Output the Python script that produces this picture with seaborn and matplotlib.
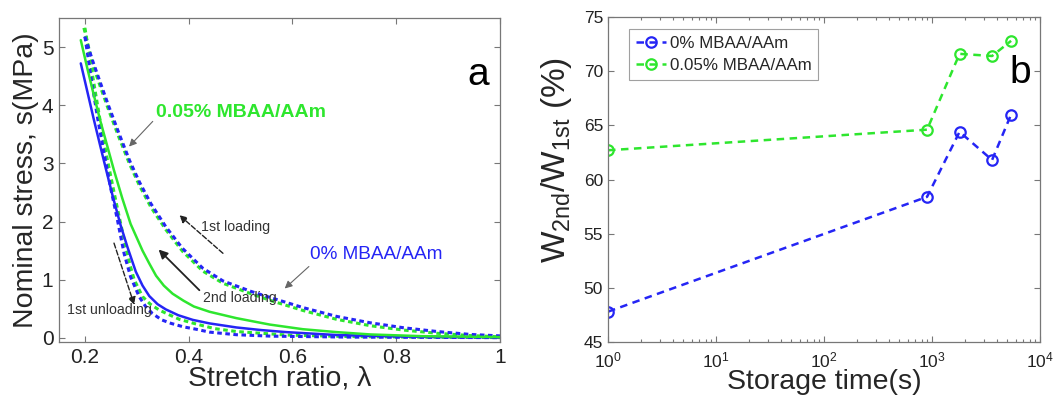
import numpy as np
import pandas as pd
import matplotlib
matplotlib.use("Agg")
import matplotlib.pyplot as plt
import seaborn as sns

# ---- panel (a): nominal stress vs stretch ratio ----
lam_load_0 = [0.200, 0.215, 0.230, 0.246, 0.265, 0.286, 0.305, 0.327, 0.356, 0.388,
              0.427, 0.466, 0.520, 0.5625, 0.621, 0.685, 0.750, 0.814, 0.879, 0.943, 1.000]
s_load_0 = [5.18, 4.76, 4.38, 3.98, 3.53, 3.05, 2.68, 2.31, 1.91, 1.54,
            1.20, 0.98, 0.80, 0.68, 0.52, 0.37, 0.26, 0.175, 0.11, 0.06, 0.035]

lam_load_5 = [0.198, 0.215, 0.230, 0.246, 0.265, 0.286, 0.305, 0.327, 0.356, 0.388,
              0.427, 0.466, 0.520, 0.5625, 0.621, 0.685, 0.750, 0.814, 0.879, 0.943, 1.000]
s_load_5 = [5.33, 4.70, 4.31, 3.91, 3.46, 2.99, 2.62, 2.25, 1.86, 1.49,
            1.15, 0.94, 0.76, 0.63, 0.47, 0.32, 0.21, 0.135, 0.08, 0.04, 0.02]

lam_second_0 = [0.192, 0.205, 0.217, 0.229, 0.240, 0.254, 0.269, 0.282, 0.298, 0.311,
                0.324, 0.340, 0.356, 0.380, 0.408, 0.440, 0.492, 0.540, 0.588, 0.685,
                0.800, 0.900, 1.000]
s_second_0 = [4.72, 4.22, 3.76, 3.32, 2.92, 2.42, 1.93, 1.56, 1.14, 0.90,
              0.72, 0.58, 0.49, 0.39, 0.31, 0.25, 0.18, 0.135, 0.10, 0.05,
              0.025, 0.015, 0.01]

lam_second_5 = [0.192, 0.205, 0.217, 0.230, 0.243, 0.256, 0.272, 0.288, 0.300, 0.311,
                0.324, 0.337, 0.352, 0.369, 0.390, 0.410, 0.440, 0.492, 0.556, 0.620,
                0.685, 0.750, 0.850, 1.000]
s_second_5 = [5.12, 4.62, 4.18, 3.72, 3.30, 2.88, 2.40, 1.96, 1.72, 1.50,
              1.28, 1.07, 0.90, 0.76, 0.64, 0.54, 0.45, 0.34, 0.23, 0.15,
              0.10, 0.06, 0.03, 0.015]

lam_unload_0 = [0.200, 0.212, 0.225, 0.238, 0.250, 0.2626, 0.269, 0.2755, 0.288, 0.3045,
                0.317, 0.330, 0.348, 0.366, 0.390, 0.414, 0.440, 0.492, 0.560, 0.700,
                0.850, 1.000]
s_unload_0 = [5.18, 4.46, 3.75, 3.12, 2.56, 2.03, 1.74, 1.45, 1.05, 0.71,
              0.54, 0.42, 0.31, 0.25, 0.19, 0.15, 0.10, 0.055, 0.03, 0.015,
              0.01, 0.005]

lam_unload_5 = [0.200, 0.214, 0.229, 0.242, 0.255, 0.268, 0.279, 0.287, 0.295, 0.311,
                0.326, 0.343, 0.362, 0.382, 0.414, 0.450, 0.492, 0.588, 0.700, 0.850, 1.000]
s_unload_5 = [5.33, 4.55, 3.75, 3.12, 2.55, 2.00, 1.55, 1.25, 1.00, 0.71,
              0.58, 0.48, 0.40, 0.32, 0.24, 0.16, 0.11, 0.05, 0.025, 0.012, 0.006]

# ---- panel (b): energy ratio vs storage time ----
storage_time = [1, 900, 1800, 3600, 5400]
ratio_0 = [47.8, 58.4, 64.4, 61.8, 66.0]
ratio_5 = [62.7, 64.6, 71.6, 71.4, 72.8]

label_0 = "0% MBAA/AAm"
label_5 = "0.05% MBAA/AAm"

BLUE = "#2525f5"
GREEN = "#2ee62e"
DASH = (0, (1.5, 1.15))

sns.set_theme(style="ticks")
plt.rcParams["font.family"] = ["Liberation Sans", "DejaVu Sans"]
plt.rcParams["mathtext.fontset"] = "custom"
plt.rcParams["mathtext.rm"] = "Liberation Sans"
plt.rcParams["mathtext.it"] = "Liberation Sans"

fig = plt.figure(figsize=(10.62, 3.98), dpi=100)
ax1 = fig.add_axes([59 / 1062, 56 / 398, 441 / 1062, 324 / 398])
ax2 = fig.add_axes([608 / 1062, 56 / 398, 432 / 1062, 325 / 398])

def curve(ax, lam, s, color, dashed, lw):
    df = pd.DataFrame({"lam": lam, "s": s})
    kw = dict(linestyle=DASH) if dashed else dict(linestyle="-")
    sns.lineplot(data=df, x="lam", y="s", ax=ax, sort=False, estimator=None,
                 color=color, lw=lw, legend=False, **kw)

curve(ax1, lam_unload_5, s_unload_5, GREEN, True, 2.2)
curve(ax1, lam_unload_0, s_unload_0, BLUE, True, 2.2)
curve(ax1, lam_load_5, s_load_5, GREEN, True, 2.2)
curve(ax1, lam_load_0, s_load_0, BLUE, True, 2.2)
curve(ax1, lam_second_0, s_second_0, BLUE, False, 1.8)
curve(ax1, lam_second_5, s_second_5, GREEN, False, 1.8)

ax1.set_xlim(0.15, 1.0)
ax1.set_ylim(-0.07, 5.5)
ax1.set_xticks([0.2, 0.4, 0.6, 0.8, 1.0])
ax1.set_xticklabels(["0.2", "0.4", "0.6", "0.8", "1"])
ax1.set_yticks([0, 1, 2, 3, 4, 5])
ax1.set_xlabel("Stretch ratio, λ", fontsize=20.5, labelpad=-1)
ax1.set_ylabel("Nominal stress, s(MPa)", fontsize=20.5, labelpad=2)
ax1.tick_params(direction="in", top=True, right=True, labelsize=15,
                length=4, width=0.8, color="#777777", labelcolor="#222222", pad=4)

gray_arrow = dict(arrowstyle="-|>", color="#666666", lw=0.8, mutation_scale=11)
ax1.annotate(label_5, xy=(0.285, 3.29), xytext=(0.337, 3.87), color=GREEN,
             fontsize=14, fontweight="bold", ha="left", va="center",
             arrowprops=dict(gray_arrow, shrinkA=0, shrinkB=0, relpos=(0.0, 0.2)))
ax1.annotate(label_0, xy=(0.585, 0.85), xytext=(0.6335, 1.43), color=BLUE,
             fontsize=13.7, ha="left", va="center",
             arrowprops=dict(gray_arrow, shrinkA=0, shrinkB=0, relpos=(0.02, 0.0)))

ax1.annotate("", xy=(0.382, 2.11), xytext=(0.466, 1.455),
             arrowprops=dict(arrowstyle="-|>", color="#222222", lw=1.0, ls="--",
                             mutation_scale=11, shrinkA=0, shrinkB=0))
ax1.text(0.424, 1.91, "1st loading", fontsize=10.2, color="#333333", va="center", ha="left")

ax1.annotate("", xy=(0.342, 1.52), xytext=(0.4206, 0.82),
             arrowprops=dict(arrowstyle="-|>", color="#222222", lw=1.3,
                             mutation_scale=13, shrinkA=0, shrinkB=0))
ax1.text(0.427, 0.68, "2nd loading", fontsize=10.2, color="#333333", va="center", ha="left")

ax1.annotate("", xy=(0.295, 0.57), xytext=(0.256, 1.63),
             arrowprops=dict(arrowstyle="-|>", color="#222222", lw=1.0, ls="--",
                             mutation_scale=11, shrinkA=0, shrinkB=0))
ax1.text(0.166, 0.48, "1st unloading", fontsize=10.2, color="#333333", va="center", ha="left")

ax1.text(0.937, 4.52, "a", fontsize=28, color="black", ha="left", va="center")

# ---- panel (b) ----
ax2.set_xscale("log")
for t, r, c, lab in [(storage_time, ratio_0, BLUE, label_0),
                     (storage_time, ratio_5, GREEN, label_5)]:
    df = pd.DataFrame({"t": t, "r": r})
    sns.lineplot(data=df, x="t", y="r", ax=ax2, sort=False, estimator=None,
                 color=c, lw=1.8, linestyle=(0, (3.0, 2.2)), marker="o",
                 markersize=7.5, markerfacecolor="none", markeredgecolor=c,
                 markeredgewidth=1.6, label=lab)

ax2.set_xlim(1, 1e4)
ax2.set_ylim(45, 75)
ax2.set_yticks([45, 50, 55, 60, 65, 70, 75])
ax2.set_xticks([1, 10, 100, 1000, 10000])
ax2.set_xlabel("Storage time(s)", fontsize=20.5, labelpad=-1)
ax2.set_ylabel(r"W$_{\mathregular{2nd}}$/W$_{\mathregular{1st}}$ (%)", fontsize=24)
ax2.yaxis.set_label_coords(-0.078, 0.56)
ax2.tick_params(which="both", direction="in", top=True, right=True, labelsize=12.5,
                color="#777777", labelcolor="#222222", width=0.8)
ax2.tick_params(which="major", length=4)
ax2.tick_params(axis="x", which="major", pad=6)
ax2.tick_params(which="minor", length=2)
ax2.text(5250, 69.8, "b", fontsize=28, color="black", ha="left", va="center")

leg = ax2.legend(loc="upper left", bbox_to_anchor=(0.049, 0.963), borderaxespad=0,
                 fontsize=12.2, handlelength=1.8, handletextpad=0.2, borderpad=0.4,
                 labelspacing=0.45, frameon=True, fancybox=False)
leg.get_frame().set_edgecolor("#888888")
leg.get_frame().set_linewidth(0.8)

for ax in (ax1, ax2):
    for sp in ax.spines.values():
        sp.set_color("#777777")
        sp.set_linewidth(0.9)

fig.savefig("out.png", dpi=100)
